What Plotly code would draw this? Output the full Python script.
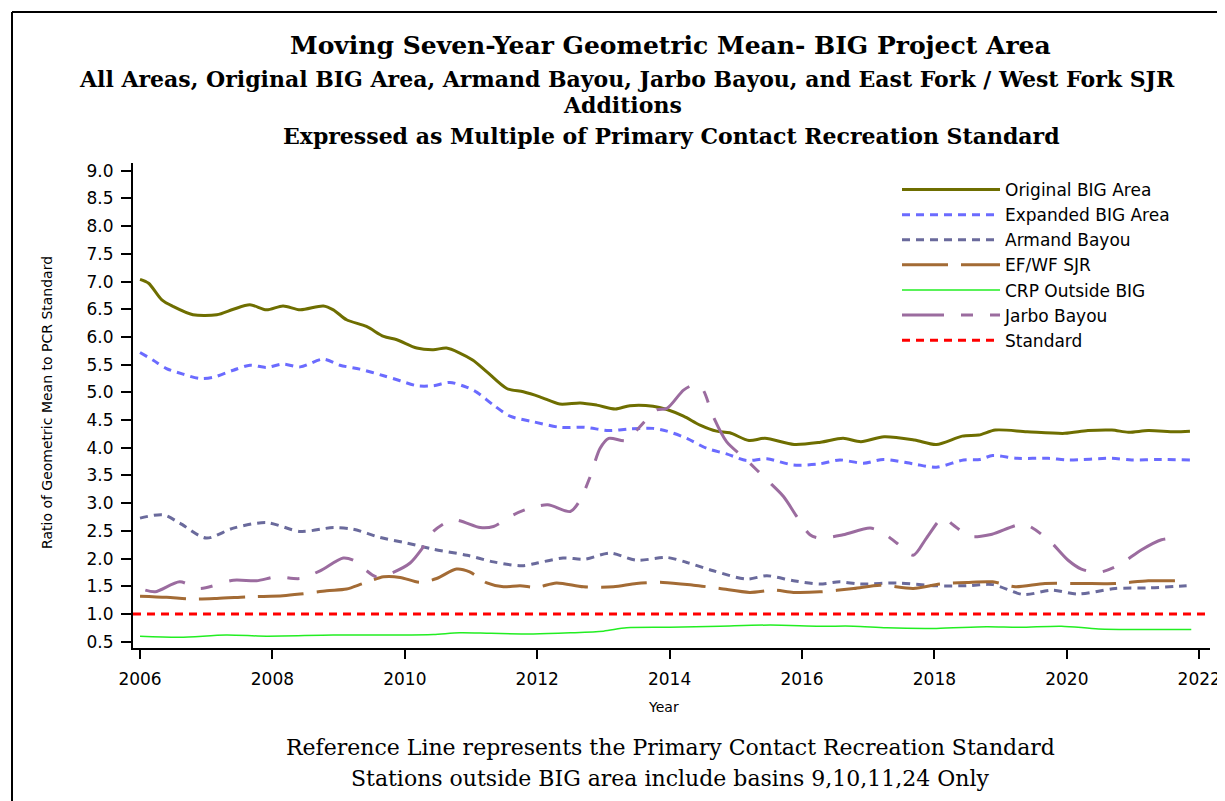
import plotly.graph_objects as go

# ---- data ----
ORIGINAL_YEARS = [2006.0, 2006.13, 2006.33, 2006.5, 2006.8, 2007.16, 2007.41, 2007.66, 2007.91, 2008.16,
                  2008.42, 2008.77, 2008.92, 2009.12, 2009.42, 2009.68, 2009.88, 2010.18, 2010.43, 2010.63,
                  2010.83, 2011.03, 2011.24, 2011.54, 2011.79, 2012.04, 2012.34, 2012.65, 2012.9, 2013.18,
                  2013.4, 2013.75, 2013.96, 2014.21, 2014.46, 2014.71, 2014.91, 2015.2, 2015.44, 2015.88,
                  2016.28, 2016.62, 2016.89, 2017.24, 2017.7, 2018.03, 2018.42, 2018.67, 2018.92, 2019.4,
                  2019.97, 2020.32, 2020.68, 2020.93, 2021.23, 2021.63, 2021.86]
ORIGINAL = [7.04, 6.97, 6.67, 6.55, 6.40, 6.40, 6.50, 6.58, 6.49, 6.56,
            6.49, 6.56, 6.49, 6.31, 6.19, 6.01, 5.95, 5.80, 5.77, 5.80,
            5.71, 5.58, 5.37, 5.07, 5.01, 4.92, 4.79, 4.81, 4.77, 4.70,
            4.76, 4.75, 4.69, 4.57, 4.41, 4.30, 4.27, 4.13, 4.17, 4.06,
            4.10, 4.17, 4.11, 4.20, 4.14, 4.06, 4.21, 4.23, 4.32, 4.29,
            4.26, 4.31, 4.32, 4.28, 4.31, 4.29, 4.30]

EXPANDED_YEARS = [2006.0, 2006.2, 2006.4, 2006.65, 2006.9, 2007.1, 2007.41, 2007.66, 2007.91, 2008.16,
                  2008.42, 2008.77, 2009.02, 2009.32, 2009.68, 2009.93, 2010.18, 2010.43, 2010.68, 2010.94,
                  2011.09, 2011.34, 2011.59, 2011.94, 2012.34, 2012.72, 2013.08, 2013.4, 2013.75, 2013.96,
                  2014.26, 2014.56, 2014.86, 2015.16, 2015.47, 2015.87, 2016.27, 2016.57, 2016.93, 2017.23,
                  2017.68, 2018.03, 2018.44, 2018.69, 2018.88, 2019.25, 2019.72, 2020.02, 2020.68, 2020.98,
                  2021.38, 2021.86]
EXPANDED = [5.72, 5.58, 5.43, 5.33, 5.25, 5.27, 5.40, 5.49, 5.45, 5.51,
            5.46, 5.60, 5.49, 5.42, 5.30, 5.21, 5.12, 5.12, 5.18, 5.09,
            5.00, 4.77, 4.57, 4.47, 4.37, 4.37, 4.31, 4.34, 4.35, 4.30,
            4.17, 3.99, 3.89, 3.77, 3.80, 3.69, 3.71, 3.78, 3.72, 3.79,
            3.71, 3.65, 3.78, 3.79, 3.86, 3.81, 3.81, 3.78, 3.81, 3.78,
            3.79, 3.78]

ARMAND_YEARS = [2006.0, 2006.35, 2006.6, 2007.0, 2007.41, 2007.91, 2008.42, 2008.92, 2009.22, 2009.63,
                2010.03, 2010.43, 2010.94, 2011.34, 2011.77, 2012.0, 2012.39, 2012.72, 2013.1, 2013.5,
                2013.96, 2014.26, 2014.66, 2015.16, 2015.47, 2015.87, 2016.27, 2016.57, 2016.88, 2017.43,
                2018.03, 2018.49, 2018.88, 2019.35, 2019.77, 2020.17, 2020.73, 2021.23, 2021.81]
ARMAND = [2.73, 2.79, 2.64, 2.37, 2.55, 2.65, 2.49, 2.56, 2.53, 2.38,
          2.28, 2.17, 2.06, 1.94, 1.87, 1.92, 2.01, 1.99, 2.10, 1.97,
          2.02, 1.93, 1.78, 1.63, 1.69, 1.60, 1.54, 1.58, 1.54, 1.56,
          1.51, 1.51, 1.53, 1.35, 1.43, 1.36, 1.46, 1.47, 1.51]

EFWF_YEARS = [2006.0, 2006.4, 2006.8, 2007.16, 2007.66, 2008.16, 2008.42, 2008.82, 2009.12, 2009.37,
              2009.68, 2009.93, 2010.23, 2010.48, 2010.78, 2010.98, 2011.24, 2011.49, 2011.74, 2011.99,
              2012.29, 2012.7, 2013.15, 2013.5, 2013.9, 2014.36, 2014.76, 2015.21, 2015.57, 2015.87,
              2016.27, 2016.78, 2017.18, 2017.68, 2018.08, 2018.49, 2018.88, 2019.22, 2019.67, 2020.22,
              2020.73, 2021.23, 2021.63, 2021.79]
EFWF = [1.32, 1.30, 1.27, 1.28, 1.31, 1.33, 1.36, 1.42, 1.45, 1.55,
        1.67, 1.66, 1.57, 1.64, 1.81, 1.76, 1.56, 1.49, 1.51, 1.48,
        1.56, 1.49, 1.49, 1.55, 1.57, 1.52, 1.46, 1.39, 1.43, 1.39,
        1.40, 1.46, 1.52, 1.46, 1.54, 1.57, 1.58, 1.49, 1.55, 1.55,
        1.55, 1.60, 1.60, 1.61]

CRP_YEARS = [2006.0, 2006.6, 2007.3, 2007.91, 2008.92, 2009.93, 2010.43, 2010.83, 2011.3, 2011.94,
             2012.5, 2013.0, 2013.35, 2014.0, 2014.76, 2015.52, 2016.27, 2016.78, 2017.28, 2018.03,
             2018.79, 2019.29, 2019.92, 2020.48, 2021.23, 2021.88]
CRP = [0.60, 0.58, 0.62, 0.60, 0.62, 0.62, 0.63, 0.66, 0.65, 0.64,
       0.66, 0.69, 0.75, 0.76, 0.78, 0.80, 0.78, 0.78, 0.75, 0.74,
       0.77, 0.76, 0.78, 0.73, 0.72, 0.72]

JARBO_YEARS = [2006.08, 2006.23, 2006.6, 2006.9, 2007.41, 2007.76, 2008.06, 2008.42, 2008.72, 2009.07,
               2009.22, 2009.57, 2009.78, 2010.08, 2010.28, 2010.43, 2010.73, 2011.14, 2011.34, 2011.64,
               2011.89, 2012.16, 2012.5, 2012.65, 2012.8, 2012.95, 2013.08, 2013.35, 2013.55, 2013.8,
               2013.96, 2014.21, 2014.36, 2014.49, 2014.66, 2014.86, 2015.16, 2015.47, 2015.72, 2015.92,
               2016.12, 2016.27, 2016.62, 2017.03, 2017.23, 2017.43, 2017.68, 2017.88, 2018.13, 2018.28,
               2018.54, 2018.87, 2019.35, 2019.72, 2020.02, 2020.22, 2020.48, 2020.78, 2021.13, 2021.43,
               2021.73]
JARBO = [1.43, 1.40, 1.58, 1.46, 1.61, 1.60, 1.67, 1.64, 1.78, 2.01,
         1.97, 1.67, 1.73, 1.92, 2.21, 2.49, 2.70, 2.56, 2.58, 2.79,
         2.91, 2.97, 2.85, 3.06, 3.48, 3.99, 4.17, 4.13, 4.38, 4.68,
         4.71, 5.04, 5.13, 5.07, 4.56, 4.11, 3.78, 3.42, 3.12, 2.76,
         2.43, 2.37, 2.43, 2.55, 2.46, 2.28, 2.06, 2.37, 2.74, 2.61,
         2.40, 2.44, 2.62, 2.34, 1.97, 1.81, 1.75, 1.88, 2.16, 2.34,
         2.38]

STANDARD_YEARS = [2005.894, 2022.163]
STANDARD = [1.0, 1.0]

X_TICKS = [2006, 2008, 2010, 2012, 2014, 2016, 2018, 2020, 2022]
Y_TICKS = [0.5, 1.0, 1.5, 2.0, 2.5, 3.0, 3.5, 4.0, 4.5, 5.0, 5.5, 6.0, 6.5, 7.0, 7.5, 8.0, 8.5, 9.0]

# ---- layout geometry, in screenshot pixels (page body adds an 8px margin) ----
OFF = 8
SCREEN_W, SCREEN_H = 1225, 801
W, H = SCREEN_W - OFF, SCREEN_H - OFF
SL, SR, ST, SB = 133, 1210, 163, 648   # plot area edges on screen
SERIF = "DejaVu Serif, Liberation Serif, serif"
SANS = "DejaVu Sans, Arial, sans-serif"


def px(x):
    return (x - SL) / (SR - SL)


def py(y):
    return (SB - y) / (SB - ST)


series = [
    ("Original BIG Area", ORIGINAL_YEARS, ORIGINAL, "#6e6e00", 3, "solid"),
    ("Expanded BIG Area", EXPANDED_YEARS, EXPANDED, "#6b6bff", 3, "8px,6px"),
    ("Armand Bayou", ARMAND_YEARS, ARMAND, "#6a6a9c", 3, "8px,6px"),
    ("EF/WF SJR", EFWF_YEARS, EFWF, "#a36b35", 3, "46px,13px"),
    ("CRP Outside BIG", CRP_YEARS, CRP, "#22ee22", 1.5, "solid"),
    ("Jarbo Bayou", JARBO_YEARS, JARBO, "#9b6c9f", 3, "42px,17px,12px,17px"),
    ("Standard", STANDARD_YEARS, STANDARD, "#ff0000", 3, "8px,6px"),
]

fig = go.Figure()
for name, xs, ys, color, width, dash in series:
    fig.add_trace(go.Scatter(
        x=xs, y=ys, name=name, mode="lines",
        line=dict(color=color, width=width, dash=dash, shape="spline", smoothing=0.8),
    ))

texts = [
    ("<b>Moving Seven-Year Geometric Mean- BIG Project Area</b>", 670, 46, 25, SERIF, 0),
    ("<b>All Areas, Original BIG Area, Armand Bayou, Jarbo Bayou, and East Fork / West Fork SJR</b>",
     627, 79, 22, SERIF, 0),
    ("<b>Additions</b>", 622, 105, 22, SERIF, 0),
    ("<b>Expressed as Multiple of Primary Contact Recreation Standard</b>", 671, 136, 22, SERIF, 0),
    ("Reference Line represents the Primary Contact Recreation Standard", 670, 747, 22, SERIF, 0),
    ("Stations outside BIG area include basins 9,10,11,24 Only", 670, 778, 22, SERIF, 0),
    ("Year", 663, 707, 14, SANS, 0),
    ("Ratio of Geometric Mean to PCR Standard", 47, 403, 14, SANS, -90),
]
fig.update_layout(annotations=[
    dict(text=t, x=px(x), y=py(y), xref="paper", yref="paper",
         xanchor="center", yanchor="middle", showarrow=False, textangle=ang,
         font=dict(family=fam, size=size, color="black"))
    for t, x, y, size, fam, ang in texts
])

# outer frame lines (left and top)
fig.add_shape(type="line", xref="paper", yref="paper", x0=px(12), x1=px(12), y0=py(12), y1=py(SCREEN_H + 10),
              line=dict(color="black", width=2))
fig.add_shape(type="line", xref="paper", yref="paper", x0=px(12), x1=px(SCREEN_W + 10), y0=py(12), y1=py(12),
              line=dict(color="black", width=2))

fig.update_layout(
    width=W, height=H,
    margin=dict(l=SL - OFF, r=SCREEN_W - SR, t=ST - OFF, b=SCREEN_H - SB, autoexpand=False),
    paper_bgcolor="white", plot_bgcolor="white",
    font=dict(family=SANS, color="black"),
    showlegend=True,
    legend=dict(
        x=px(897), y=py(172), xanchor="left", yanchor="top",
        bgcolor="rgba(0,0,0,0)", font=dict(family=SANS, size=17, color="black"),
        itemwidth=98, tracegroupgap=0,
    ),
)
fig.update_xaxes(
    range=[STANDARD_YEARS[0], STANDARD_YEARS[1]], tickvals=X_TICKS, ticktext=[str(t) for t in X_TICKS],
    showgrid=False, zeroline=False, showline=True, linecolor="black", linewidth=2,
    ticks="outside", ticklen=9, tickwidth=2, tickcolor="black", ticklabelstandoff=6,
    tickfont=dict(family=SANS, size=17),
)
fig.update_yaxes(
    range=[0.386, 9.14], tickvals=Y_TICKS, ticktext=[f"{t:.1f}" for t in Y_TICKS],
    showgrid=False, zeroline=False, showline=True, linecolor="black", linewidth=2,
    ticks="outside", ticklen=10, tickwidth=2, tickcolor="black", ticklabelstandoff=4,
    tickfont=dict(family=SANS, size=17),
)

fig.write_html("out.html")
